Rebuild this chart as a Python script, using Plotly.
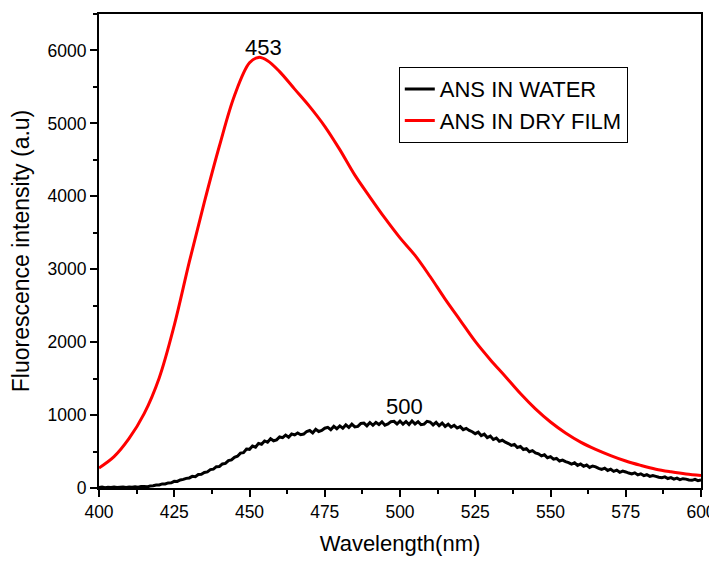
import plotly.graph_objects as go

# ANS in water (noisy spectrum), sampled every 1 nm from 400 to 600
water_wl = list(range(400, 601))
water = [8, 14, 4, 10, 6, 12, 7, 11, 14, 8,
         13, 9, 16, 12, 19, 22, 16, 28, 30, 40,
         42, 56, 55, 70, 72, 92, 90, 110, 118, 132,
         138, 160, 155, 185, 188, 212, 220, 252, 258, 292,
         295, 330, 338, 375, 385, 420, 435, 478, 485, 535,
         530, 575, 560, 612, 600, 645, 628, 675, 648, 660,
         700, 690, 725, 695, 740, 728, 755, 730, 740, 775,
         788, 755, 805, 775, 790, 820, 832, 800, 845, 812,
         852, 820, 865, 830, 875, 838, 845, 885, 890, 852,
         898, 860, 900, 870, 908, 862, 878, 910, 915, 878,
         918, 875, 912, 870, 920, 878, 910, 868, 875, 915,
         905, 865, 900, 855, 890, 845, 875, 835, 860, 822,
         842, 800, 818, 790, 772, 745, 765, 718, 738, 692,
         712, 665, 685, 640, 655, 628, 610, 585, 598, 555,
         570, 528, 540, 498, 512, 482, 468, 440, 455, 415,
         430, 395, 405, 370, 382, 362, 348, 328, 345, 310,
         330, 298, 315, 282, 302, 290, 270, 255, 272, 240,
         258, 228, 245, 215, 232, 220, 205, 192, 208, 180,
         195, 170, 182, 160, 172, 160, 148, 140, 152, 130,
         142, 122, 135, 115, 128, 122, 110, 105, 118, 100,
         112]

# ANS in dry film (smooth spectrum)
film_wl = [400, 405, 410, 415, 420, 425, 430, 435, 440, 445, 450, 453, 456,
           460, 465, 470, 475, 480, 485, 490, 495, 500, 505, 510, 515, 520,
           525, 530, 535, 540, 545, 550, 555, 560, 565, 570, 575, 580, 585,
           590, 595, 600]
film = [275, 430, 680, 1020, 1510, 2230, 3100, 3920, 4690, 5380, 5830, 5905, 5860,
        5710, 5470, 5230, 4960, 4640, 4290, 3990, 3700, 3430, 3190, 2900, 2590, 2300,
        2010, 1760, 1530, 1295, 1085, 905, 755, 630, 530, 445, 370, 310, 258,
        222, 192, 172]

peak_labels = ["453", "500"]
peak_x = [454.5, 501.5]
peak_y = [6040, 1120]

fig = go.Figure()
fig.add_trace(go.Scatter(x=water_wl, y=water, mode="lines", name="ANS IN WATER",
                         line=dict(color="#000000", width=3, simplify=False)))
fig.add_trace(go.Scatter(x=film_wl, y=film, mode="lines", name="ANS IN DRY FILM",
                         line=dict(color="#ff0000", width=3, shape="spline", smoothing=1.0)))

for t, xx, yy in zip(peak_labels, peak_x, peak_y):
    fig.add_annotation(x=xx, y=yy, text=t, showarrow=False, xanchor="center",
                       yanchor="middle", font=dict(size=22, color="black"))

axis_common = dict(showgrid=False, zeroline=False, showline=True, linewidth=2,
                   linecolor="black", mirror=True, ticks="outside", ticklen=7,
                   tickwidth=2, tickcolor="black", automargin=False,
                   tickfont=dict(size=17.5, color="black"))

fig.update_xaxes(range=[400, 600], tick0=400, dtick=25,
                 title=dict(text="Wavelength(nm)", font=dict(size=22), standoff=15),
                 minor=dict(dtick=12.5, ticks="outside", ticklen=4, tickwidth=1.5,
                            tickcolor="black", showgrid=False),
                 **axis_common)
fig.update_yaxes(range=[0, 6500], tick0=0, dtick=1000,
                 title=dict(text="Fluorescence intensity (a.u)", font=dict(size=23), standoff=12),
                 minor=dict(dtick=500, ticks="outside", ticklen=4, tickwidth=1.5,
                            tickcolor="black", showgrid=False),
                 **axis_common)

# the page body adds an 8px offset, so the figure is shrunk by that amount
fig.update_layout(
    width=709, height=553,
    margin=dict(l=91, r=16, t=6, b=73),
    paper_bgcolor="white", plot_bgcolor="white",
    font=dict(family="Liberation Sans, Arial, sans-serif", color="black"),
    legend=dict(x=0.498, y=0.888, xanchor="left", yanchor="top",
                bordercolor="black", borderwidth=1, bgcolor="white",
                font=dict(size=22), tracegroupgap=0),
)

fig.write_html("out.html")
